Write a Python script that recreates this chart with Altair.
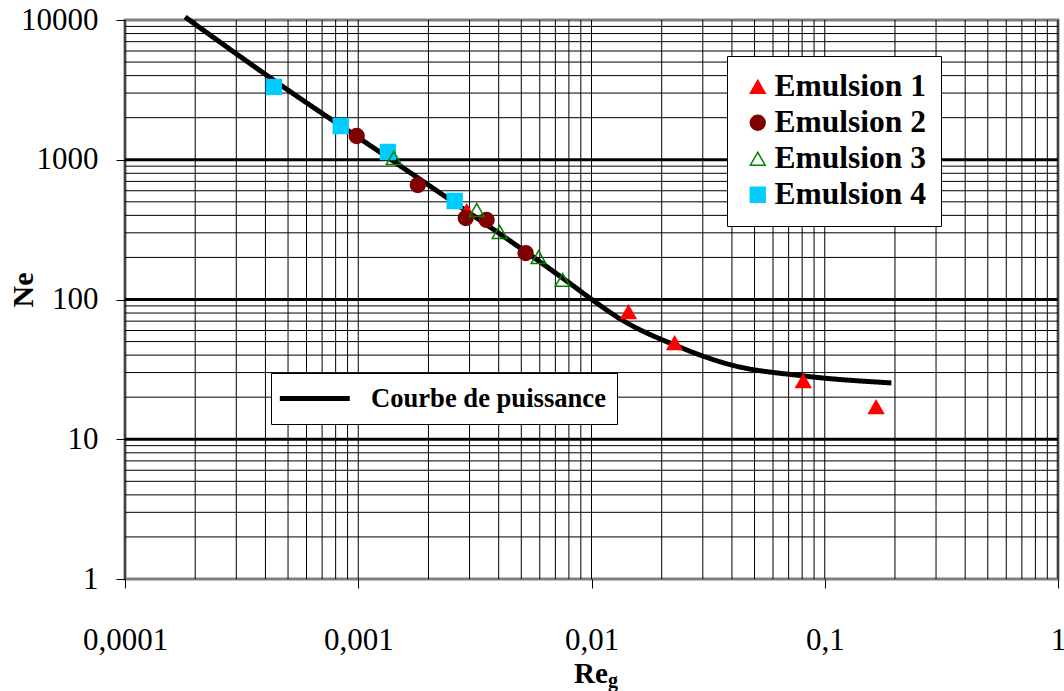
import altair as alt
import pandas as pd

# ---- data ----
series = ["Emulsion 1", "Emulsion 2", "Emulsion 3", "Emulsion 4"]
e1_x = [0.00292, 0.0144, 0.0227, 0.0809, 0.166]
e1_y = [430, 81.4, 48.8, 26.1, 17.0]
e2_x = [0.000985, 0.00180, 0.00289, 0.00355, 0.00522]
e2_y = [1479, 659, 383, 371, 215]
e3_x = [0.00142, 0.00322, 0.00404, 0.00593, 0.00752]
e3_y = [1029, 437, 304, 201, 138]
e4_x = [0.000435, 0.000841, 0.00134, 0.00259]
e4_y = [3318, 1744, 1136, 507]
curve_label = "Courbe de puissance"
curve_x = [0.000181, 0.000435, 0.00155, 0.00805, 0.0101, 0.0133, 0.0227, 0.0398, 0.0809, 0.193]
curve_y = [10500, 3700, 880, 131, 99.2, 72.5, 47.3, 34.0, 28.4, 25.3]
x_ticks = [0.0001, 0.001, 0.01, 0.1, 1]
y_ticks = [1, 10, 100, 1000, 10000]
x_grid = [m * 10.0 ** k for k in range(-4, 0) for m in range(1, 10)] + [1]
y_grid_minor = [m * 10.0 ** k for k in range(0, 4) for m in range(2, 10)]
y_grid_major = [10, 100, 1000]

rows = []
for name, xs_, ys_ in [("Emulsion 1", e1_x, e1_y), ("Emulsion 2", e2_x, e2_y),
                       ("Emulsion 4", e4_x, e4_y), ("Emulsion 3", e3_x, e3_y)]:
    for a, b in zip(xs_, ys_):
        rows.append({"series": name, "x": a, "y": b})
pts = pd.DataFrame(rows)
curve = pd.DataFrame({"x": curve_x, "y": curve_y, "lbl": [curve_label] * len(curve_x)})

SERIF = "Liberation Serif"
xs = alt.Scale(type="log", domain=[0.0001, 1], nice=False)
ys = alt.Scale(type="log", domain=[1, 10000], nice=False)
LBL = "replace(format(datum.value, '~g'), '.', ',')"
xaxis = alt.Axis(values=x_ticks, title=None, grid=False, domain=False,
                 tickSize=9, tickColor="black", tickWidth=1,
                 labelFont=SERIF, labelFontSize=31, labelColor="black",
                 labelPadding=37, labelBaseline="top", labelFlush=False,
                 labelOverlap=False, labelBound=False, labelExpr=LBL)
yaxis = alt.Axis(values=y_ticks, title=None, grid=False, domain=False,
                 tickSize=9, tickColor="black", tickWidth=1,
                 labelFont=SERIF, labelFontSize=31, labelColor="black",
                 labelPadding=18, labelBaseline="middle", labelFlush=False,
                 labelOverlap=False, labelBound=False, labelExpr=LBL)

vgrid = alt.Chart(pd.DataFrame({"x": x_grid})).mark_rule(color="black", strokeWidth=1).encode(
    x=alt.X("x:Q", scale=xs, axis=xaxis))
hgrid = alt.Chart(pd.DataFrame({"y": y_grid_minor})).mark_rule(color="black", strokeWidth=1).encode(
    y=alt.Y("y:Q", scale=ys, axis=yaxis))
hmajor = alt.Chart(pd.DataFrame({"y": y_grid_major})).mark_rule(color="black", strokeWidth=3).encode(
    y=alt.Y("y:Q", scale=ys, axis=yaxis))

line = alt.Chart(curve).mark_line(color="black", strokeWidth=5, interpolate="monotone").encode(
    x=alt.X("x:Q", scale=xs, axis=xaxis),
    y=alt.Y("y:Q", scale=ys, axis=yaxis),
    strokeDash=alt.StrokeDash("lbl:N", scale=alt.Scale(domain=[curve_label], range=[[1, 0]]),
                              legend=alt.Legend(orient="none", legendX=146, legendY=353, title=None,
                                                symbolType="M-1.43,0L4.57,0", symbolSize=544,
                                                symbolStrokeWidth=5, symbolStrokeColor="black",
                                                symbolFillColor="transparent",
                                                labelFont=SERIF, labelFontSize=26.6, labelFontWeight="bold",
                                                labelColor="black", labelOffset=60, padding=11,
                                                labelLimit=600,
                                                fillColor="white", strokeColor="black",
                                                labelExpr="datum.label + '\u2002\u2009'")),
)

leg = dict(orient="none", legendX=602, legendY=36, title=None,
           labelFont=SERIF, labelFontSize=31.5, labelFontWeight="bold", labelColor="black",
           labelOffset=1, padding=15, rowPadding=3, symbolSize=220, symbolStrokeWidth=1.5,
           labelLimit=600, fillColor="white", strokeColor="black",
           labelExpr="datum.label + '\u2009'")

points = alt.Chart(pts).mark_point(size=220, strokeWidth=1.5, opacity=1).encode(
    x=alt.X("x:Q", scale=xs, axis=xaxis),
    y=alt.Y("y:Q", scale=ys, axis=yaxis),
    shape=alt.Shape("series:N", scale=alt.Scale(domain=series,
                    range=["triangle-up", "circle", "triangle-up", "square"]), legend=alt.Legend(**leg)),
    fill=alt.Fill("series:N", scale=alt.Scale(domain=series,
                  range=["#FF0000", "#800000", "transparent", "#00CCFF"]), legend=alt.Legend(**leg)),
    stroke=alt.Stroke("series:N", scale=alt.Scale(domain=series,
                      range=["#FF0000", "#800000", "#008000", "#00CCFF"]), legend=alt.Legend(**leg)),
    order=alt.Order("idx:Q"),
).transform_window(idx="row_number()")

re_t = alt.Chart(pd.DataFrame({"t": ["Re"]})).mark_text(font=SERIF, fontSize=29, fontWeight="bold",
                                                        color="black", align="center",
                                                        baseline="alphabetic").encode(
    x=alt.value(466), y=alt.value(663), text="t:N")
g_t = alt.Chart(pd.DataFrame({"t": ["g"]})).mark_text(font=SERIF, fontSize=20, fontWeight="bold",
                                                      color="black", align="left",
                                                      baseline="alphabetic").encode(
    x=alt.value(483), y=alt.value(667), text="t:N")
ne_t = alt.Chart(pd.DataFrame({"t": ["Ne"]})).mark_text(font=SERIF, fontSize=30, fontWeight="bold",
                                                        color="black", align="center", baseline="middle",
                                                        angle=270).encode(
    x=alt.value(-101), y=alt.value(270), text="t:N")

chart = alt.layer(vgrid, hgrid, hmajor, line, points, re_t, g_t, ne_t).properties(
    width=933, height=559,
    autosize=alt.AutoSizeParams(type="none"),
    padding={"left": 125, "top": 20, "right": 6, "bottom": 112},
    background="white",
).configure_view(stroke="#808080", strokeWidth=3)

chart.save("out.html", embed_options={"renderer": "svg", "actions": False})
